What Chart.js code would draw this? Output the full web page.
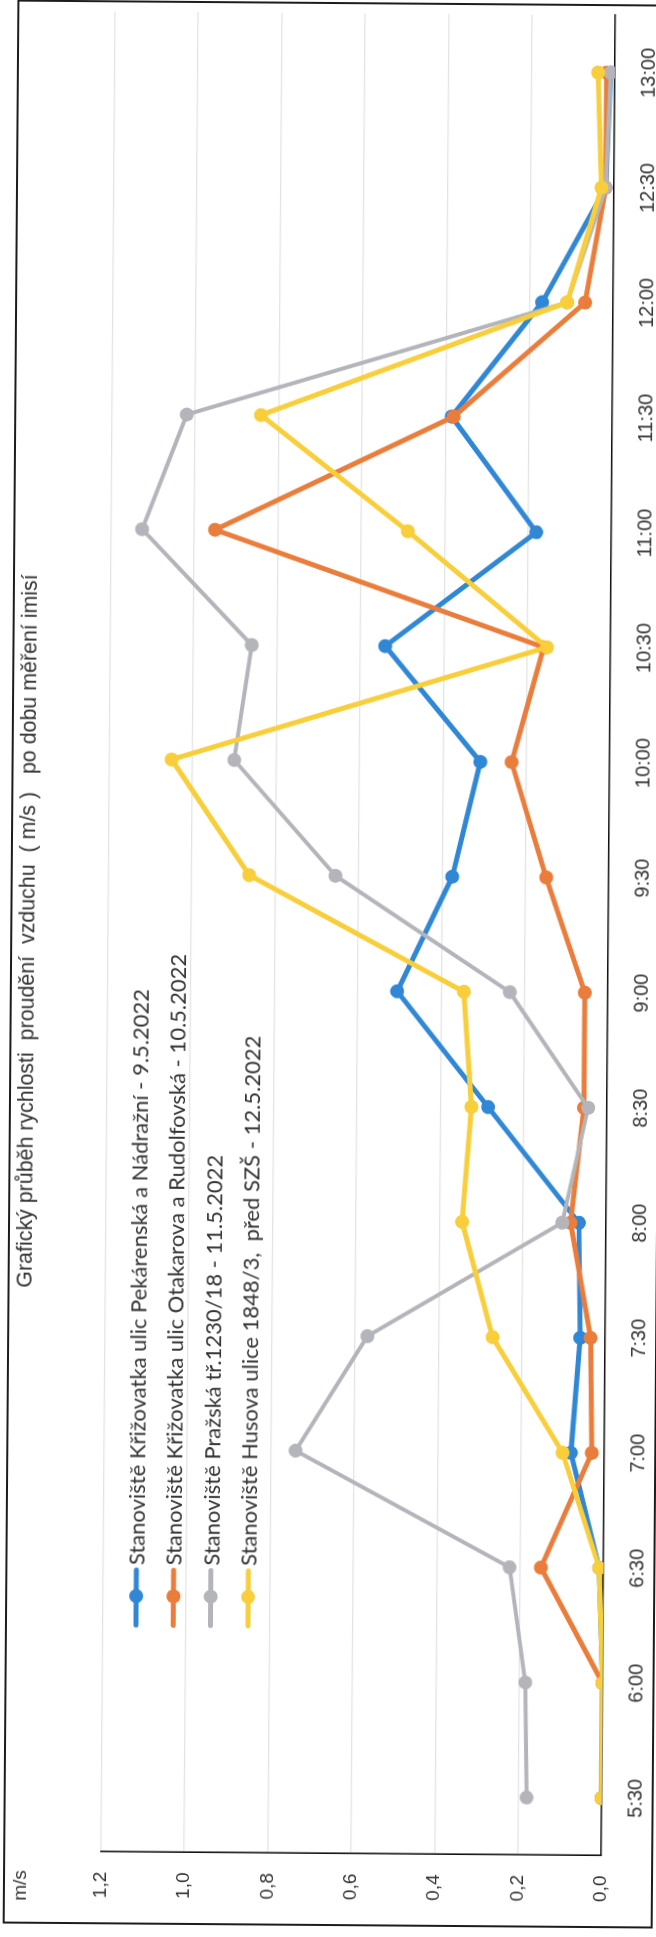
<!DOCTYPE html>
<html lang="cs">
<head>
<meta charset="utf-8">
<title>Rychlost proudění vzduchu</title>
<script src="https://cdn.jsdelivr.net/npm/chart.js@4.4.1/dist/chart.umd.min.js"></script>
<style>
  html, body { margin: 0; padding: 0; background: #fff; overflow: hidden; }
  body { width: 656px; height: 1937px; position: relative; }
  /* the chart is landscape; the sheet is turned on its side like the scan */
  #sheet {
    position: absolute; left: 0; top: 0;
    width: 1937px; height: 680px;
    transform-origin: 0 0;
    transform: translate(328px, 968.5px) rotate(0.44deg) translate(-328px, -968.5px)
               translate(0, 1937px) rotate(-90deg);
  }
</style>
</head>
<body>
<div id="sheet"><canvas id="chart" width="1937" height="680"></canvas></div>
<script>
// ─── Data ──────────────────────────────────────────────────────

const TIMES = ['5:30', '6:00', '6:30', '7:00', '7:30', '8:00', '8:30', '9:00',
  '9:30', '10:00', '10:30', '11:00', '11:30', '12:00', '12:30', '13:00'];

const PEKARENSKA = [0.0, 0.0, 0.01, 0.08, 0.06, 0.065, 0.285, 0.505, 0.375, 0.31, 0.54, 0.18, 0.385, 0.17, 0.02, 0.01];
const OTAKAROVA  = [0.0, 0.0, 0.15, 0.03, 0.035, 0.085, 0.055, 0.055, 0.15, 0.235, 0.16, 0.95, 0.38, 0.067, 0.02, 0.02];
const PRAZSKA    = [0.18, 0.185, 0.225, 0.74, 0.57, 0.105, 0.045, 0.235, 0.655, 0.9, 0.86, 1.125, 1.02, 0.11, 0.02, 0.01];
const HUSOVA     = [0.0, 0.0, 0.01, 0.1, 0.27, 0.345, 0.325, 0.345, 0.862, 1.05, 0.152, 0.488, 0.842, 0.11, 0.03, 0.04];

const SERIES_NAMES = [
  'Stanoviště Křižovatka ulic Pekárenská a Nádražní - 9.5.2022',
  'Stanoviště Křižovatka ulic Otakarova a Rudolfovská - 10.5.2022',
  'Stanoviště Pražská tř.1230/18 - 11.5.2022',
  'Stanoviště Husova ulice 1848/3,  před SZŠ - 12.5.2022',
];

const VALUE_MAX = 1.2;
const VALUE_STEP = 0.2;

const TITLE = 'Grafický průběh rychlosti  proudění  vzduchu  ( m/s )   po dobu měření imisí';
const UNIT = 'm/s';

// ─── Styles ────────────────────────────────────────────────────

const COLORS = {
  blue: '#2f87d5',
  orange: '#ea7d3b',
  gray: '#b4b5bb',
  yellow: '#f8ce3b',
};
const TEXT = '#333333';
const ARIAL = '"Liberation Sans", Arial, sans-serif';
const CALIBRI = 'Lato, "Open Sans", sans-serif';

// widths the scan shows for the title and the first legend entry
const TITLE_WIDTH = 712;
const LEGEND_WIDTH = 577;

function series(label, data, color, order, width) {
  return {
    label,
    data,
    borderColor: color,
    backgroundColor: color,
    pointBackgroundColor: color,
    pointBorderColor: color,
    borderWidth: width,
    pointRadius: 7,
    pointBorderWidth: 0,
    tension: 0,
    order,
  };
}

// font size that makes `text` come out `width` px wide
function fitSize(ctx, text, family, width) {
  ctx.font = `100px ${family}`;
  return Math.round(1000 * width / ctx.measureText(text).width) / 10;
}

// title, unit label, legend and the outer frame
const overlay = {
  id: 'overlay',
  afterDraw(chart) {
    const { ctx, chartArea } = chart;
    ctx.save();

    ctx.strokeStyle = '#1c1c1c';
    ctx.lineWidth = 2;
    ctx.strokeRect(12, 11, 1922, 648);

    const titleSize = fitSize(ctx, TITLE, ARIAL, TITLE_WIDTH);
    ctx.fillStyle = TEXT;
    ctx.textBaseline = 'middle';
    ctx.font = `${titleSize}px ${ARIAL}`;
    ctx.textAlign = 'center';
    ctx.fillText(TITLE, (chartArea.left + chartArea.right) / 2, 28);

    ctx.font = `19px ${ARIAL}`;
    ctx.textAlign = 'right';
    ctx.fillText(UNIT, chartArea.left - 19, 28);

    // legend, inside the plot area
    const legendSize = fitSize(ctx, chart.data.datasets[0].label, CALIBRI, LEGEND_WIDTH);
    const x0 = chartArea.left + 227;
    chart.data.datasets.forEach((ds, i) => {
      const y = 141 + i * 37.3;
      ctx.strokeStyle = ds.borderColor;
      ctx.lineWidth = 5;
      ctx.lineCap = 'round';
      ctx.beginPath();
      ctx.moveTo(x0, y);
      ctx.lineTo(x0 + 55, y);
      ctx.stroke();
      ctx.fillStyle = ds.borderColor;
      ctx.beginPath();
      ctx.arc(x0 + 29, y, 7, 0, Math.PI * 2);
      ctx.fill();
      ctx.fillStyle = TEXT;
      ctx.textAlign = 'left';
      ctx.font = `${legendSize}px ${CALIBRI}`;
      ctx.fillText(ds.label, x0 + 60, y + 1);
    });

    ctx.restore();
  },
};

// ─── Chart ─────────────────────────────────────────────────────

new Chart(document.getElementById('chart'), {
  type: 'line',
  data: {
    labels: TIMES,
    datasets: [
      series(SERIES_NAMES[0], PEKARENSKA, COLORS.blue, 3, 5),
      series(SERIES_NAMES[1], OTAKAROVA, COLORS.orange, 2, 5),
      series(SERIES_NAMES[2], PRAZSKA, COLORS.gray, 1, 4),
      series(SERIES_NAMES[3], HUSOVA, COLORS.yellow, 0, 5),
    ],
  },
  options: {
    responsive: false,
    animation: false,
    layout: { padding: { left: 0, right: 13, top: 107.5, bottom: 0 } },
    plugins: {
      legend: { display: false },
      title: { display: false },
      tooltip: { enabled: false },
    },
    scales: {
      x: {
        offset: true,
        grid: { display: false, drawTicks: false },
        border: { display: true, color: '#111', width: 1.6 },
        ticks: {
          color: TEXT,
          padding: 22,
          maxRotation: 0,
          autoSkip: false,
          font: { family: ARIAL, size: 20 },
        },
        afterFit: s => { s.height = 72; },
      },
      y: {
        min: 0,
        max: VALUE_MAX,
        grid: { color: '#e3e3e3', lineWidth: 1.2, drawTicks: false },
        border: { display: true, color: '#111', width: 1.6 },
        ticks: {
          stepSize: VALUE_STEP,
          color: TEXT,
          padding: 20,
          font: { family: ARIAL, size: 19 },
          callback: v => v.toFixed(1).replace('.', ','),
        },
        afterFit: s => { s.width = 83.5; },
      },
    },
  },
  plugins: [overlay],
});
</script>
</body>
</html>
